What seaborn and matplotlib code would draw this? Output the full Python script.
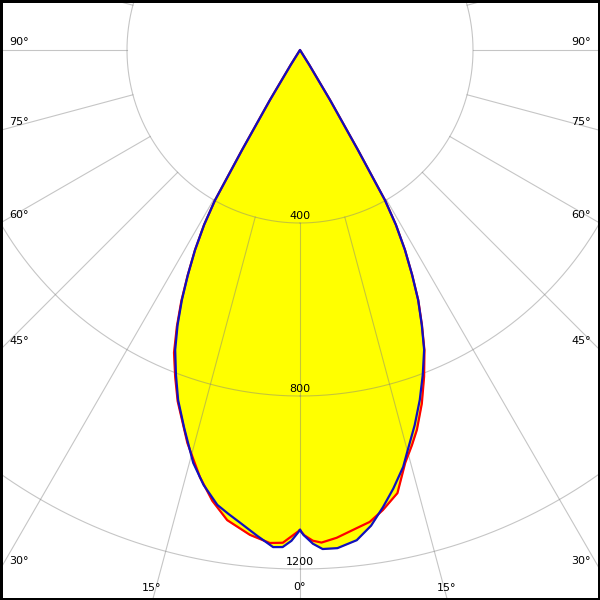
import numpy as np
import pandas as pd
import seaborn as sns
import matplotlib.pyplot as plt
from matplotlib.patches import Rectangle

# Luminous intensity (cd) vs. gamma angle (deg)
# blue curve, right half and left half
blue_right_ang = [0, 0.4, 1.5, 2.6, 4.3, 6.6, 8.5, 10.3, 12, 13.9, 15, 17, 18.9, 20.7, 22.5,
                  23.9, 25.3, 26.5, 27.7, 28.75, 29.5, 30.1, 31, 32, 33]
blue_right_cd = [1110, 1121, 1142, 1155, 1155, 1141, 1112, 1074, 1037, 993, 960, 907, 855, 803, 750,
                 695, 639, 581, 522, 461, 399, 267, 135, 40, 0]
blue_left_ang = [0, 1, 2, 3.1, 5, 7.2, 8.8, 10.3, 12.5, 14.5, 17, 19.2, 20.9, 22.6,
                 24, 25.3, 26.5, 27.7, 28.75, 29.5, 30.1, 31, 32, 33]
blue_left_cd = [1110, 1135, 1150, 1151, 1128, 1102, 1085, 1069, 1030, 986, 915, 857, 804, 751,
                696, 639, 581, 522, 461, 399, 267, 135, 40, 0]

# red curve
red_right_ang = [0, 0.5, 1.5, 2.5, 4.3, 6.8, 8.4, 10.2, 12.4, 14.3, 15.8, 17.1, 19, 20.8, 22.5,
                 23.9, 25.3, 26.5, 27.7, 28.75, 29.5, 30.1, 31, 32, 33]
red_right_cd = [1110, 1122, 1135, 1140, 1131, 1113, 1103, 1081, 1049, 985, 950, 919, 865, 808, 752,
                696, 640, 581, 522, 461, 399, 267, 135, 40, 0]
red_left_ang = [0, 2, 3.5, 5.9, 8.8, 11, 13.2, 16, 19.2, 20.9, 22.6, 24, 25.3, 26.5, 27.7,
                28.75, 29.5, 30.1, 31, 32, 33]
red_left_cd = [1110, 1140, 1142, 1127, 1100, 1062, 1014, 945, 860, 809, 758, 700, 642, 582, 522,
               461, 399, 267, 135, 40, 0]

rings = [400, 800, 1200, 1600]
ring_labels = ['400', '800', '1200']
edge_labels = ['90°', '75°', '60°', '45°', '30°']


def curve(r_ang, r_cd, l_ang, l_cd):
    ang = list(r_ang) + [-a for a in l_ang[::-1]]
    cd = list(r_cd) + list(l_cd[::-1])
    return pd.DataFrame({'theta': np.radians(ang), 'cd': cd})


blue = curve(blue_right_ang, blue_right_cd, blue_left_ang, blue_left_cd)
red = curve(red_right_ang, red_right_cd, red_left_ang, red_left_cd)

W = H = 600
cx, cy = 300, 50          # pole position in pixels (from top-left)
px_per_cd = 173 / 400.0
R = 1600 * px_per_cd

fig = plt.figure(figsize=(6, 6), dpi=100)
ax = fig.add_axes([(cx - R) / W, (H - cy - R) / H, 2 * R / W, 2 * R / H], projection='polar')
ax.set_theta_zero_location('S')
ax.set_theta_direction(1)

ax.fill(red['theta'], red['cd'], color='#ffff00', zorder=1)
ax.fill(blue['theta'], blue['cd'], color='#ffff00', zorder=1)

# grid: circles and 15 degree spokes starting at the first circle
tt = np.linspace(0, 2 * np.pi, 721)
for r in rings:
    ax.plot(tt, np.full_like(tt, r), color='#808080', lw=0.8, alpha=0.45, zorder=2)
for a in np.arange(0, 360, 15):
    ax.plot([np.radians(a)] * 2, [400, 1600], color='#808080', lw=0.8, alpha=0.45, zorder=2)

sns.lineplot(data=red, x='theta', y='cd', sort=False, estimator=None, ax=ax,
             color='#ff0000', linewidth=1.6, zorder=3)
sns.lineplot(data=blue, x='theta', y='cd', sort=False, estimator=None, ax=ax,
             color='#1010c0', linewidth=1.6, zorder=4)

ax.set_ylim(0, 1600)
ax.set_axis_off()

for r, lab in zip(rings, ring_labels):
    ax.annotate(lab, (0, r), xytext=(0, 7), textcoords='offset pixels',
                ha='center', va='center', fontsize=8, color='black', zorder=5)

# angle labels at the frame edges
edge_y = [42, 122, 215, 341, 561]
for lab, y in zip(edge_labels, edge_y):
    fig.text(9 / W, 1 - y / H, lab, ha='left', va='center', fontsize=8)
    fig.text(591 / W, 1 - y / H, lab, ha='right', va='center', fontsize=8)
fig.text(142 / W, 1 - 588 / H, '15°', ha='left', va='center', fontsize=8)
fig.text(437 / W, 1 - 588 / H, '15°', ha='left', va='center', fontsize=8)
fig.text(299 / W, 1 - 587 / H, '0°', ha='center', va='center', fontsize=8)

fig.add_artist(Rectangle((0, 0), 1, 1, transform=fig.transFigure, fill=False,
                         edgecolor='black', linewidth=3.6))

fig.savefig('out.png', dpi=100)
